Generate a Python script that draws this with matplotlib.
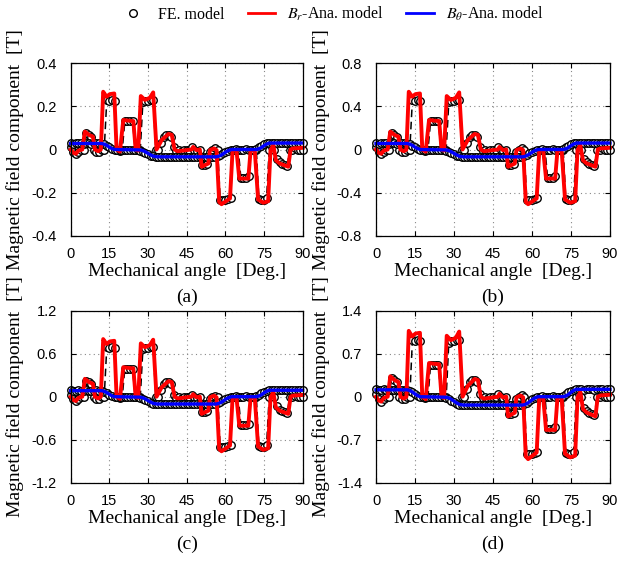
import numpy as np
import matplotlib
matplotlib.use("Agg")
import matplotlib.pyplot as plt
from matplotlib.lines import Line2D

plt.rcParams['mathtext.fontset'] = 'stix'

# ---------------- data ----------------
X_TICKS = [0, 15, 30, 45, 60, 75, 90]
Y_TICKS = {
    'a': [-0.4, -0.2, 0, 0.2, 0.4],
    'b': [-0.8, -0.4, 0, 0.4, 0.8],
    'c': [-1.2, -0.6, 0, 0.6, 1.2],
    'd': [-1.4, -0.7, 0, 0.7, 1.4],
}
Y_TICK_LABELS = {
    'a': ['-0.4', '-0.2', '0', '0.2', '0.4'],
    'b': ['-0.8', '-0.4', '0', '0.4', '0.8'],
    'c': ['-1.2', '-0.6', '0', '0.6', '1.2'],
    'd': ['-1.4', '-0.7', '0', '0.7', '1.4'],
}
PANELS = ['a', 'b', 'c', 'd']

# analytical Br model (angle in deg)
BR_ANG = [0, 1, 2, 3, 4.5, 5.5, 7.2, 8.6, 9.4, 10.7, 11.7, 12.6, 13.9, 15.2, 16.9, 17.8, 19.1,
          20.4, 22.3, 24.3, 25.2, 26.2, 27.2, 28.8, 30.7, 32.0, 33.3, 35.3, 37.9, 39.2, 40.3,
          41.5, 46.9, 47.5, 48.8, 50.1, 50.8, 53.4, 54.0, 55.6, 56.6, 57.6, 58.5, 61.8, 62.8,
          64.3, 65.4, 68.9, 69.8, 71.4, 72.7, 74.7, 76.6, 77.5, 78.6, 79.6, 81.1, 84.4, 85.3,
          86.3, 90]
BR_ANA_A = [0.0, -0.015, -0.02, -0.005, 0.0, 0.083, 0.067, 0.06, 0.0, -0.008, 0.0, 0.268, 0.245,
            0.257, 0.26, 0.0, -0.01, 0.137, 0.134, 0.132, 0.0, -0.005, 0.248, 0.23, 0.24, 0.265,
            0.0, 0.044, 0.072, 0.068, 0.0, -0.008, 0.0, 0.012, -0.003, 0.0, -0.08, -0.065, -0.003,
            0.005, -0.003, -0.243, -0.254, -0.227, -0.003, -0.003, -0.135, -0.135, -0.003, -0.003,
            -0.232, -0.247, -0.24, -0.003, 0.02, -0.05, -0.065, -0.08, 0.0, 0.005, 0.008]
BR_ANA_B = [0.0, -0.03, -0.04, -0.01, 0.0, 0.166, 0.134, 0.12, 0.0, -0.016, 0.0, 0.536, 0.49,
            0.514, 0.52, 0.0, -0.02, 0.274, 0.268, 0.264, 0.0, -0.01, 0.496, 0.46, 0.48, 0.53,
            0.0, 0.088, 0.144, 0.136, 0.0, -0.016, 0.0, 0.024, -0.006, 0.0, -0.16, -0.13, -0.006,
            0.01, -0.006, -0.486, -0.508, -0.454, -0.006, -0.006, -0.27, -0.27, -0.006, -0.006,
            -0.464, -0.494, -0.48, -0.006, 0.04, -0.1, -0.13, -0.16, 0.0, 0.01, 0.016]
BR_ANA_C = [0.0, -0.045, -0.06, -0.015, 0.0, 0.249, 0.201, 0.18, 0.0, -0.024, 0.0, 0.804, 0.735,
            0.771, 0.78, 0.0, -0.03, 0.411, 0.402, 0.396, 0.0, -0.015, 0.744, 0.69, 0.72, 0.795,
            0.0, 0.132, 0.216, 0.204, 0.0, -0.024, 0.0, 0.036, -0.009, 0.0, -0.24, -0.195, -0.009,
            0.015, -0.009, -0.729, -0.762, -0.681, -0.009, -0.009, -0.405, -0.405, -0.009, -0.009,
            -0.696, -0.741, -0.72, -0.009, 0.06, -0.15, -0.195, -0.24, 0.0, 0.015, 0.024]
BR_ANA_D = [0.0, -0.06, -0.08, -0.02, 0.0, 0.332, 0.268, 0.24, 0.0, -0.032, 0.0, 1.072, 0.98,
            1.028, 1.04, 0.0, -0.04, 0.548, 0.536, 0.528, 0.0, -0.02, 0.992, 0.92, 0.96, 1.06,
            0.0, 0.176, 0.288, 0.272, 0.0, -0.032, 0.0, 0.048, -0.012, 0.0, -0.32, -0.26, -0.012,
            0.02, -0.012, -0.972, -1.016, -0.908, -0.012, -0.012, -0.54, -0.54, -0.012, -0.012,
            -0.928, -0.988, -0.96, -0.012, 0.08, -0.2, -0.26, -0.32, 0.0, 0.02, 0.032]

# analytical Btheta model
BT_ANG = [0, 12, 13, 14, 15, 16, 17, 27, 28, 29, 30, 31, 32, 33.5, 56.5, 57.5, 58.5, 59.5, 60.5,
          61.5, 62.5, 72, 73, 74, 75, 76, 77, 90]
BT_ANA_A = [0.028, 0.028, 0.025, 0.019, 0.011, 0.004, 0.0, -0.002, -0.005, -0.011, -0.018, -0.025,
            -0.031, -0.034, -0.034, -0.031, -0.025, -0.017, -0.009, -0.003, 0.0, 0.0, 0.003, 0.009,
            0.018, 0.025, 0.03, 0.03]
BT_ANA_B = [0.056, 0.056, 0.05, 0.038, 0.022, 0.008, 0.0, -0.004, -0.01, -0.022, -0.036, -0.05,
            -0.062, -0.068, -0.068, -0.062, -0.05, -0.034, -0.018, -0.006, 0.0, 0.0, 0.006, 0.018,
            0.036, 0.05, 0.06, 0.06]
BT_ANA_C = [0.084, 0.084, 0.075, 0.057, 0.033, 0.012, 0.0, -0.006, -0.015, -0.033, -0.054, -0.075,
            -0.093, -0.102, -0.102, -0.093, -0.075, -0.051, -0.027, -0.009, 0.0, 0.0, 0.009, 0.027,
            0.054, 0.075, 0.09, 0.09]
BT_ANA_D = [0.112, 0.112, 0.1, 0.076, 0.044, 0.016, 0.0, -0.008, -0.02, -0.044, -0.072, -0.1,
            -0.124, -0.136, -0.136, -0.124, -0.1, -0.068, -0.036, -0.012, 0.0, 0.0, 0.012, 0.036,
            0.072, 0.1, 0.12, 0.12]

# FE model samples (every 1 deg, 0..90)
FE_ANG = list(range(0, 91))
FE_BR_A = [0.01, -0.01, -0.02, -0.01, 0.0, 0.0, 0.075, 0.068, 0.06, 0.0,
           -0.01, -0.01, 0.0, 0.0, 0.23, 0.225, 0.23, 0.225, 0.0, -0.005,
           0.0, 0.13, 0.13, 0.13, 0.13, 0.0, 0.0, 0.0, 0.22, 0.225,
           0.225, 0.23, 0.23, 0.0, 0.0, 0.03, 0.06, 0.068, 0.068, 0.06,
           0.01, -0.005, 0.0, -0.005, 0.0, 0.0, 0.0, 0.01, 0.0, -0.005,
           0.0, -0.07, -0.07, -0.065, -0.01, 0.0, 0.005, 0.0, -0.235, -0.235,
           -0.235, -0.23, -0.225, 0.0, 0.0, 0.0, -0.13, -0.13, -0.13, -0.125,
           0.0, 0.0, 0.0, -0.23, -0.235, -0.235, -0.225, 0.0, 0.01, 0.0,
           -0.045, -0.06, -0.065, -0.07, -0.075, 0.0, 0.0, 0.005, 0.0, 0.0, 0.0]
FE_BR_B = [0.02, -0.02, -0.04, -0.02, 0.0, 0.0, 0.15, 0.136, 0.12, 0.0,
           -0.02, -0.02, 0.0, 0.0, 0.46, 0.45, 0.46, 0.45, 0.0, -0.01,
           0.0, 0.26, 0.26, 0.26, 0.26, 0.0, 0.0, 0.0, 0.44, 0.45,
           0.45, 0.46, 0.46, 0.0, 0.0, 0.06, 0.12, 0.136, 0.136, 0.12,
           0.02, -0.01, 0.0, -0.01, 0.0, 0.0, 0.0, 0.02, 0.0, -0.01,
           0.0, -0.14, -0.14, -0.13, -0.02, 0.0, 0.01, 0.0, -0.47, -0.47,
           -0.47, -0.46, -0.45, 0.0, 0.0, 0.0, -0.26, -0.26, -0.26, -0.25,
           0.0, 0.0, 0.0, -0.46, -0.47, -0.47, -0.45, 0.0, 0.02, 0.0,
           -0.09, -0.12, -0.13, -0.14, -0.15, 0.0, 0.0, 0.01, 0.0, 0.0, 0.0]
FE_BR_C = [0.03, -0.03, -0.06, -0.03, 0.0, 0.0, 0.225, 0.204, 0.18, 0.0,
           -0.03, -0.03, 0.0, 0.0, 0.69, 0.675, 0.69, 0.675, 0.0, -0.015,
           0.0, 0.39, 0.39, 0.39, 0.39, 0.0, 0.0, 0.0, 0.66, 0.675,
           0.675, 0.69, 0.69, 0.0, 0.0, 0.09, 0.18, 0.204, 0.204, 0.18,
           0.03, -0.015, 0.0, -0.015, 0.0, 0.0, 0.0, 0.03, 0.0, -0.015,
           0.0, -0.21, -0.21, -0.195, -0.03, 0.0, 0.015, 0.0, -0.705, -0.705,
           -0.705, -0.69, -0.675, 0.0, 0.0, 0.0, -0.39, -0.39, -0.39, -0.375,
           0.0, 0.0, 0.0, -0.69, -0.705, -0.705, -0.675, 0.0, 0.03, 0.0,
           -0.135, -0.18, -0.195, -0.21, -0.225, 0.0, 0.0, 0.015, 0.0, 0.0, 0.0]
FE_BR_D = [0.04, -0.04, -0.08, -0.04, 0.0, 0.0, 0.3, 0.272, 0.24, 0.0,
           -0.04, -0.04, 0.0, 0.0, 0.92, 0.9, 0.92, 0.9, 0.0, -0.02,
           0.0, 0.52, 0.52, 0.52, 0.52, 0.0, 0.0, 0.0, 0.88, 0.9,
           0.9, 0.92, 0.92, 0.0, 0.0, 0.12, 0.24, 0.272, 0.272, 0.24,
           0.04, -0.02, 0.0, -0.02, 0.0, 0.0, 0.0, 0.04, 0.0, -0.02,
           0.0, -0.28, -0.28, -0.26, -0.04, 0.0, 0.02, 0.0, -0.94, -0.94,
           -0.94, -0.92, -0.9, 0.0, 0.0, 0.0, -0.52, -0.52, -0.52, -0.5,
           0.0, 0.0, 0.0, -0.92, -0.94, -0.94, -0.9, 0.0, 0.04, 0.0,
           -0.18, -0.24, -0.26, -0.28, -0.3, 0.0, 0.0, 0.02, 0.0, 0.0, 0.0]

FE_BT_A = [0.03, 0.026, 0.028, 0.03, 0.028, 0.027, 0.029, 0.028, 0.027, 0.028, 0.029, 0.028, 0.027,
           0.024, 0.018, 0.01, 0.004, 0.0,
           -0.002, -0.003, -0.002, -0.003, -0.002, -0.002, -0.003, -0.002, -0.003,
           -0.005, -0.01, -0.016, -0.022, -0.028, -0.032,
           -0.034, -0.035, -0.034, -0.035, -0.034, -0.034, -0.035, -0.034, -0.035, -0.034, -0.034,
           -0.035, -0.034, -0.035, -0.034, -0.034, -0.035, -0.034, -0.035, -0.034, -0.034, -0.035,
           -0.034, -0.033,
           -0.03, -0.024, -0.017, -0.01, -0.005, -0.002,
           0.0, 0.001, 0.0, -0.001, 0.0, 0.001, 0.0, -0.001, 0.0,
           0.004, 0.01, 0.018, 0.024, 0.028,
           0.03, 0.031, 0.03, 0.029, 0.03, 0.031, 0.03, 0.029, 0.03, 0.031, 0.03, 0.029, 0.03, 0.03]
FE_BT_B = [0.06, 0.052, 0.056, 0.06, 0.056, 0.054, 0.058, 0.056, 0.054, 0.056, 0.058, 0.056, 0.054,
           0.048, 0.036, 0.02, 0.008, 0.0,
           -0.004, -0.006, -0.004, -0.006, -0.004, -0.004, -0.006, -0.004, -0.006,
           -0.01, -0.02, -0.032, -0.044, -0.056, -0.064,
           -0.068, -0.07, -0.068, -0.07, -0.068, -0.068, -0.07, -0.068, -0.07, -0.068, -0.068,
           -0.07, -0.068, -0.07, -0.068, -0.068, -0.07, -0.068, -0.07, -0.068, -0.068, -0.07,
           -0.068, -0.066,
           -0.06, -0.048, -0.034, -0.02, -0.01, -0.004,
           0.0, 0.002, 0.0, -0.002, 0.0, 0.002, 0.0, -0.002, 0.0,
           0.008, 0.02, 0.036, 0.048, 0.056,
           0.06, 0.062, 0.06, 0.058, 0.06, 0.062, 0.06, 0.058, 0.06, 0.062, 0.06, 0.058, 0.06, 0.06]
FE_BT_C = [0.09, 0.078, 0.084, 0.09, 0.084, 0.081, 0.087, 0.084, 0.081, 0.084, 0.087, 0.084, 0.081,
           0.072, 0.054, 0.03, 0.012, 0.0,
           -0.006, -0.009, -0.006, -0.009, -0.006, -0.006, -0.009, -0.006, -0.009,
           -0.015, -0.03, -0.048, -0.066, -0.084, -0.096,
           -0.102, -0.105, -0.102, -0.105, -0.102, -0.102, -0.105, -0.102, -0.105, -0.102, -0.102,
           -0.105, -0.102, -0.105, -0.102, -0.102, -0.105, -0.102, -0.105, -0.102, -0.102, -0.105,
           -0.102, -0.099,
           -0.09, -0.072, -0.051, -0.03, -0.015, -0.006,
           0.0, 0.003, 0.0, -0.003, 0.0, 0.003, 0.0, -0.003, 0.0,
           0.012, 0.03, 0.054, 0.072, 0.084,
           0.09, 0.093, 0.09, 0.087, 0.09, 0.093, 0.09, 0.087, 0.09, 0.093, 0.09, 0.087, 0.09, 0.09]
FE_BT_D = [0.12, 0.104, 0.112, 0.12, 0.112, 0.108, 0.116, 0.112, 0.108, 0.112, 0.116, 0.112, 0.108,
           0.096, 0.072, 0.04, 0.016, 0.0,
           -0.008, -0.012, -0.008, -0.012, -0.008, -0.008, -0.012, -0.008, -0.012,
           -0.02, -0.04, -0.064, -0.088, -0.112, -0.128,
           -0.136, -0.14, -0.136, -0.14, -0.136, -0.136, -0.14, -0.136, -0.14, -0.136, -0.136,
           -0.14, -0.136, -0.14, -0.136, -0.136, -0.14, -0.136, -0.14, -0.136, -0.136, -0.14,
           -0.136, -0.132,
           -0.12, -0.096, -0.068, -0.04, -0.02, -0.008,
           0.0, 0.004, 0.0, -0.004, 0.0, 0.004, 0.0, -0.004, 0.0,
           0.016, 0.04, 0.072, 0.096, 0.112,
           0.12, 0.124, 0.12, 0.116, 0.12, 0.124, 0.12, 0.116, 0.12, 0.124, 0.12, 0.116, 0.12, 0.12]

BR_ANA = {'a': BR_ANA_A, 'b': BR_ANA_B, 'c': BR_ANA_C, 'd': BR_ANA_D}
BT_ANA = {'a': BT_ANA_A, 'b': BT_ANA_B, 'c': BT_ANA_C, 'd': BT_ANA_D}
FE_BR = {'a': FE_BR_A, 'b': FE_BR_B, 'c': FE_BR_C, 'd': FE_BR_D}
FE_BT = {'a': FE_BT_A, 'b': FE_BT_B, 'c': FE_BT_C, 'd': FE_BT_D}

# ---------------- figure ----------------
W, H = 639, 566
fig = plt.figure(figsize=(W / 100, H / 100), dpi=100)

positions = {
    'a': [70.7, 63.3, 302.7, 235.7],
    'b': [376.0, 63.3, 610.0, 235.7],
    'c': [70.7, 310.7, 302.7, 482.7],
    'd': [376.0, 310.7, 610.0, 482.7],
}

SERIF = ['Liberation Serif', 'DejaVu Serif']
SANS = ['Liberation Sans', 'DejaVu Sans']

for p in PANELS:
    x0, y0, x1, y1 = positions[p]
    ax = fig.add_axes([x0 / W, 1 - y1 / H, (x1 - x0) / W, (y1 - y0) / H])
    yt = Y_TICKS[p]
    ax.set_xlim(0, 90)
    ax.set_ylim(yt[0], yt[-1])

    ax.plot(FE_ANG, FE_BR[p], linestyle=(0, (5, 3)), color='black', lw=1.1,
            marker='o', markersize=5.4, markerfacecolor='white', markeredgecolor='black',
            markeredgewidth=1.0, clip_on=False, zorder=3)
    ax.plot(FE_ANG, FE_BT[p], linestyle='none', marker='o', markersize=5.4,
            markerfacecolor='white', markeredgecolor='black', markeredgewidth=1.0,
            clip_on=False, zorder=3)
    ax.plot(BR_ANG, BR_ANA[p], color='#ff0000', lw=2.8, clip_on=False, zorder=4)
    ax.plot(BT_ANG, BT_ANA[p], color='#0000ff', lw=2.4, clip_on=False, zorder=5)

    ax.set_xticks(X_TICKS)
    ax.set_xticklabels([str(v) for v in X_TICKS], fontfamily=SANS, fontsize=10.5)
    ax.set_yticks(yt)
    ax.set_yticklabels(Y_TICK_LABELS[p], fontfamily=SANS, fontsize=10.5)
    ax.tick_params(direction='in', length=3.5, width=0.8, top=True, right=True)
    ax.tick_params(axis='x', pad=8)
    ax.tick_params(axis='y', pad=10)
    ax.grid(True, linestyle=(0, (1, 3)), color='#888888', lw=0.8)
    for s in ax.spines.values():
        s.set_linewidth(0.9)
        s.set_zorder(6)

    ax.set_xlabel('Mechanical angle  [Deg.]', fontfamily=SERIF, fontsize=14)
    ax.xaxis.set_label_coords(0.5, -0.16)
    ax.set_ylabel('Magnetic field component  [T]', fontfamily=SERIF, fontsize=14)
    ax.yaxis.set_label_coords(-0.2 if p in 'ac' else -0.195, 0.5)

    cx = (x0 + x1) / 2 / W
    cy = 1 - (y1 + 62) / H
    fig.text(cx, cy, '(%s)' % p, ha='center', va='center', fontfamily=SERIF, fontsize=14)

handles = [
    Line2D([], [], linestyle='none', marker='o', markersize=5.5, markerfacecolor='white',
           markeredgecolor='black', markeredgewidth=1.0),
    Line2D([], [], color='#ff0000', lw=2),
    Line2D([], [], color='#0000ff', lw=2),
]
labels = ['FE. model', r'$B_r$-Ana. model', r'$B_\theta$-Ana. model']
fig.legend(handles, labels, loc='center', bbox_to_anchor=(0.518, 1 - 14 / H), ncol=3,
           frameon=False, prop={'family': SERIF, 'size': 11.5}, handlelength=1.75,
           columnspacing=1.45, handletextpad=0.7)

fig.savefig('out.png', dpi=100)
